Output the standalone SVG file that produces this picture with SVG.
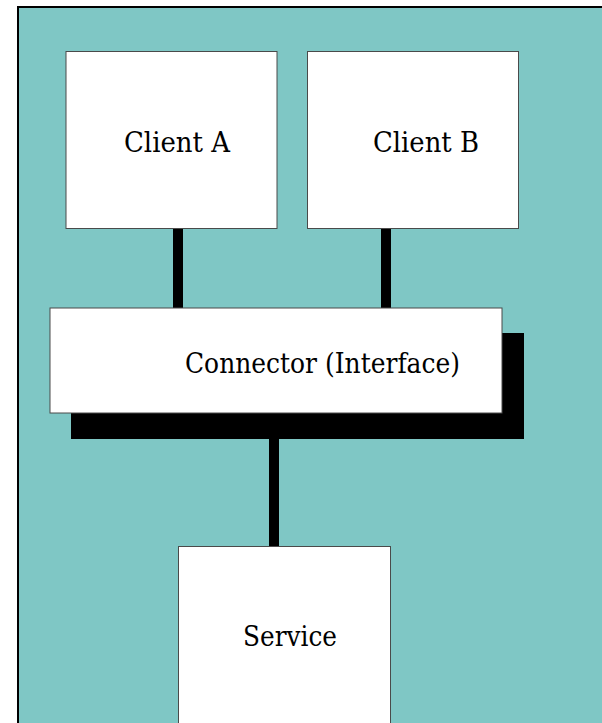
<svg xmlns="http://www.w3.org/2000/svg" width="602" height="723" viewBox="0 0 602 723">
  <style>
    .box { fill: #ffffff; stroke: #4a4a4a; stroke-width: 1; }
    .label { font-family: "DejaVu Serif", serif; font-size: 27px; fill: #000000; }
    .link { stroke: #000000; stroke-width: 10; fill: none; }
  </style>
  <rect x="0" y="0" width="602" height="723" fill="#ffffff"/>
  <!-- panel background with left/top frame -->
  <rect x="18" y="7" width="600" height="730" fill="#7fc7c5"/>
  <path d="M18,737 V7 H620" fill="none" stroke="#000000" stroke-width="2"/>

  <g id="connectors">
    <line class="link" x1="178" y1="228" x2="178" y2="308"/>
    <line class="link" x1="386" y1="228" x2="386" y2="308"/>
    <line class="link" x1="274" y1="438" x2="274" y2="547"/>
  </g>

  <g id="client-a">
    <rect class="box" x="66" y="51.5" width="211" height="177"/>
    <text class="label" x="124" y="152" textLength="106" lengthAdjust="spacingAndGlyphs">Client A</text>
  </g>

  <g id="client-b">
    <rect class="box" x="307.5" y="51.5" width="211" height="177"/>
    <text class="label" x="373" y="152" textLength="106" lengthAdjust="spacingAndGlyphs">Client B</text>
  </g>

  <g id="connector-interface">
    <rect x="71" y="333" width="453" height="106" fill="#000000"/>
    <rect class="box" x="50" y="308" width="452" height="105"/>
    <text class="label" x="185" y="373" textLength="275" lengthAdjust="spacingAndGlyphs">Connector (Interface)</text>
  </g>

  <g id="service">
    <rect class="box" x="178.5" y="546.5" width="212" height="200"/>
    <text class="label" x="243" y="646" textLength="94" lengthAdjust="spacingAndGlyphs">Service</text>
  </g>
</svg>
